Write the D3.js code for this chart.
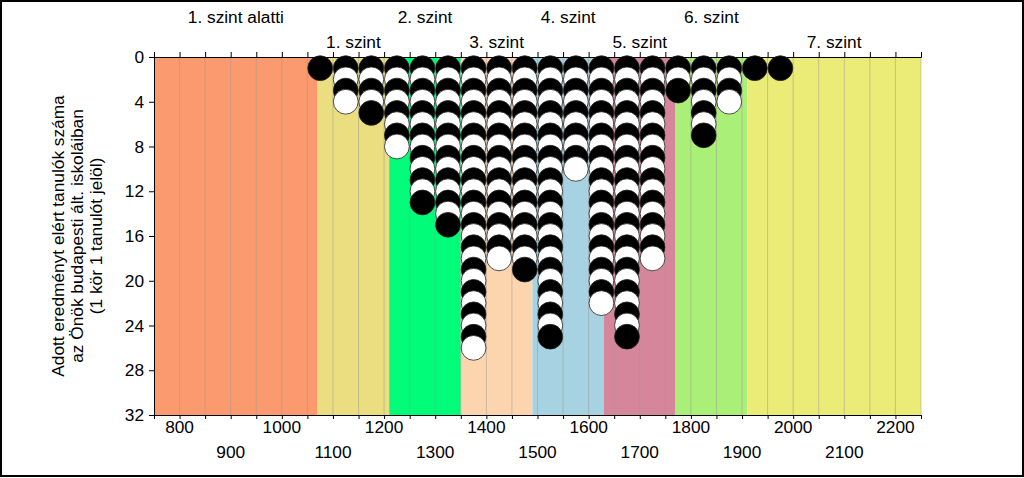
<!DOCTYPE html>
<html>
<head>
<meta charset="utf-8">
<script src="https://cdn.jsdelivr.net/npm/d3@7"></script>
<style>
  body { margin: 0; background: #fff; }
  svg { display: block; font-family: "Liberation Sans", Arial, sans-serif; }
</style>
</head>
<body>
<svg id="chart"></svg>
<script>
// score bins (centre of each 50 point bin) and number of students in them
const binCenters = [1075, 1125, 1175, 1225, 1275, 1325, 1375, 1425, 1475, 1525,
                    1575, 1625, 1675, 1725, 1775, 1825, 1875, 1925, 1975];
const studentCounts = [1, 4, 5, 8, 13, 15, 26, 18, 19, 25,
                       10, 22, 25, 18, 3, 7, 4, 1, 1];

// competency levels (background bands)
const levelNames = ["1. szint alatti", "1. szint", "2. szint", "3. szint",
                    "4. szint", "5. szint", "6. szint", "7. szint"];
const levelBounds = [750, 1070, 1210, 1350, 1490, 1630, 1770, 1910, 2250];
const levelColors = ["#fa9a6e", "#ebde80", "#00fc78", "#fcd5af",
                     "#a6d2e2", "#d6869b", "#aaf078", "#ebeb78"];

const xTickValues = d3.range(750, 2251, 50);
const xLabelValues = d3.range(800, 2201, 100);
const yTickValues = [0, 4, 8, 12, 16, 20, 24, 28, 32];
const yTitle = ["Adott eredményt elért tanulók száma",
                "az Önök budapesti ált. iskoláiban",
                "(1 kör 1 tanulót jelöl)"];

const W = 1024, H = 478;
const plot = { left: 154, right: 921, top: 57, bottom: 415 };
const fontSize = "17.3px";

const svg = d3.select("#chart").attr("width", W).attr("height", H);

// outer frame
svg.append("rect")
    .attr("x", 1).attr("y", 1)
    .attr("width", W - 2).attr("height", H - 3)
    .attr("fill", "#fff")
    .attr("stroke", "#000")
    .attr("stroke-width", 2);

const x = d3.scaleLinear().domain([750, 2250]).range([plot.left, plot.right]);
const y = d3.scaleLinear().domain([0, 32]).range([plot.top, plot.bottom]);

// level bands
svg.append("g")
    .selectAll("rect")
    .data(levelNames)
    .enter()
    .append("rect")
    .attr("x", (d, i) => x(levelBounds[i]))
    .attr("y", plot.top)
    .attr("width", (d, i) => x(levelBounds[i + 1]) - x(levelBounds[i]))
    .attr("height", plot.bottom - plot.top)
    .attr("fill", (d, i) => levelColors[i]);

// vertical grid lines
svg.append("g")
    .selectAll("line")
    .data(xTickValues.slice(1))
    .enter()
    .append("line")
    .attr("x1", d => x(d)).attr("x2", d => x(d))
    .attr("y1", plot.top).attr("y2", plot.bottom)
    .attr("stroke", "#a09a90")
    .attr("stroke-opacity", 0.5)
    .attr("stroke-width", 1);

// level names on top, alternating rows
svg.append("g")
    .selectAll("text")
    .data(levelNames)
    .enter()
    .append("text")
    .attr("x", (d, i) => x((levelBounds[i] + levelBounds[i + 1]) / 2))
    .attr("y", (d, i) => i % 2 === 0 ? 23 : 48)
    .attr("text-anchor", "middle")
    .attr("font-size", fontSize)
    .attr("fill", "#000")
    .text(d => d);

// top axis (ticks only)
const topAxis = svg.append("g")
    .attr("transform", `translate(0,${plot.top})`)
    .call(d3.axisTop(x).tickValues(xTickValues).tickSize(5).tickFormat(""));
topAxis.select(".domain").attr("stroke", "#000");

// bottom axis
const bottomAxis = svg.append("g")
    .attr("transform", `translate(0,${plot.bottom})`)
    .call(d3.axisBottom(x).tickValues(xTickValues).tickSize(4).tickFormat(""));
bottomAxis.select(".domain").attr("stroke", "#000");

svg.append("g")
    .selectAll("text")
    .data(xLabelValues)
    .enter()
    .append("text")
    .attr("x", d => x(d))
    .attr("y", (d, i) => i % 2 === 0 ? 433 : 458)
    .attr("text-anchor", "middle")
    .attr("font-size", fontSize)
    .text(d => d);

// left axis
const leftAxis = svg.append("g")
    .attr("transform", `translate(${plot.left},0)`)
    .call(d3.axisLeft(y).tickValues(yTickValues).tickSize(5).tickPadding(5));
leftAxis.select(".domain").attr("stroke", "#000");
leftAxis.selectAll("text")
    .attr("font-size", fontSize)
    .attr("font-family", "Liberation Sans, Arial, sans-serif")
    .attr("fill", "#000");

// y title
const titleCy = (plot.top + plot.bottom) / 2;
svg.append("g")
    .attr("transform", `translate(77,${titleCy}) rotate(-90)`)
    .selectAll("text")
    .data(yTitle)
    .enter()
    .append("text")
    .attr("x", 0)
    .attr("y", (d, i) => (i - 1) * 19 + 6)
    .attr("text-anchor", "middle")
    .attr("font-size", fontSize)
    .text(d => d);

// student circles: one column per bin, alternating black / white
const dots = [];
binCenters.forEach((c, i) => {
    for (let k = 1; k <= studentCounts[i]; k++) {
        dots.push({ score: c, k: k });
    }
});

svg.append("g")
    .selectAll("circle")
    .data(dots)
    .enter()
    .append("circle")
    .attr("cx", d => x(d.score))
    .attr("cy", d => y(d.k))
    .attr("r", 12.4)
    .attr("fill", d => d.k % 2 === 1 ? "#000" : "#fff")
    .attr("stroke", "#222")
    .attr("stroke-width", 0.8);
</script>
</body>
</html>
